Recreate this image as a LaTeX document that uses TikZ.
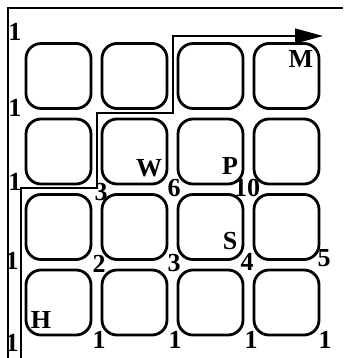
\documentclass[tikz,border=0pt]{standalone}
\usepackage{fontspec}
\setmainfont{Liberation Serif}
\usetikzlibrary{positioning,arrows.meta}

\begin{document}
\begin{tikzpicture}[x=1pt, y=-1pt,
          block/.style={rectangle, draw, line width=2.8pt, rounded corners=15pt,
              minimum width=65pt, minimum height=65pt},
          num/.style={font=\fontsize{26}{26}\selectfont\bfseries, inner sep=0pt},
          route/.style={line width=1.1pt, -{Triangle[length=28pt,width=15pt]}},
          node distance=7.7pt and 8.2pt
        ]
        \useasboundingbox (0,0) rectangle (343,358);
        \draw[line width=1.3pt] (8,358) |- (343,8);
        % city blocks, row by row from the top
        \node[block] (b11) at (58.5,76) {};
        \node[block, right=of b11] (b12) {};
        \node[block, right=of b12] (b13) {};
        \node[block, right=of b13] (b14) {};
        \node[block, below=of b11] (b21) {};
        \node[block, right=of b21] (b22) {};
        \node[block, right=of b22] (b23) {};
        \node[block, right=of b23] (b24) {};
        \node[block, below=of b21] (b31) {};
        \node[block, right=of b31] (b32) {};
        \node[block, right=of b32] (b33) {};
        \node[block, right=of b33] (b34) {};
        \node[block, below=of b31] (b41) {};
        \node[block, right=of b41] (b42) {};
        \node[block, right=of b42] (b43) {};
        \node[block, right=of b43] (b44) {};
        % the route
        \coordinate (start) at (21,358);
        \coordinate (turn1) at (97,188);
        \coordinate (turn2) at (173,113);
        \coordinate (goal)  at (323,36);
        \draw[route] (start) |- (turn1) |- (turn2) |- (goal);
        % path counts
        \node[num] (n1) at (15,32)   {1};
        \node[num] (n2) at (15,108)  {1};
        \node[num] (n3) at (15,182)  {1};
        \node[num] (n4) at (12,261)  {1};
        \node[num] (n5) at (12,343)  {1};
        \node[num] (n6) at (99,340)  {1};
        \node[num] (n7) at (175,340) {1};
        \node[num] (n8) at (251,340) {1};
        \node[num] (n9) at (325,340) {1};
        \node[num] (n10) at (99,264)  {2};
        \node[num] (n11) at (174,263) {3};
        \node[num] (n12) at (247,262) {4};
        \node[num] (n13) at (324,258) {5};
        \node[num] (n14) at (101,192) {3};
        \node[num] (n15) at (174,188) {6};
        \node[num] (n16) at (247,188) {10};
        % places
        \node[num] (home)   at (41,320)  {H};
        \node[num] (work)   at (149,168) {W};
        \node[num] (park)   at (230,166) {P};
        \node[num] (school) at (230,241) {S};
        \node[num] (market) at (301,59)  {M};
      \end{tikzpicture}
\end{document}
